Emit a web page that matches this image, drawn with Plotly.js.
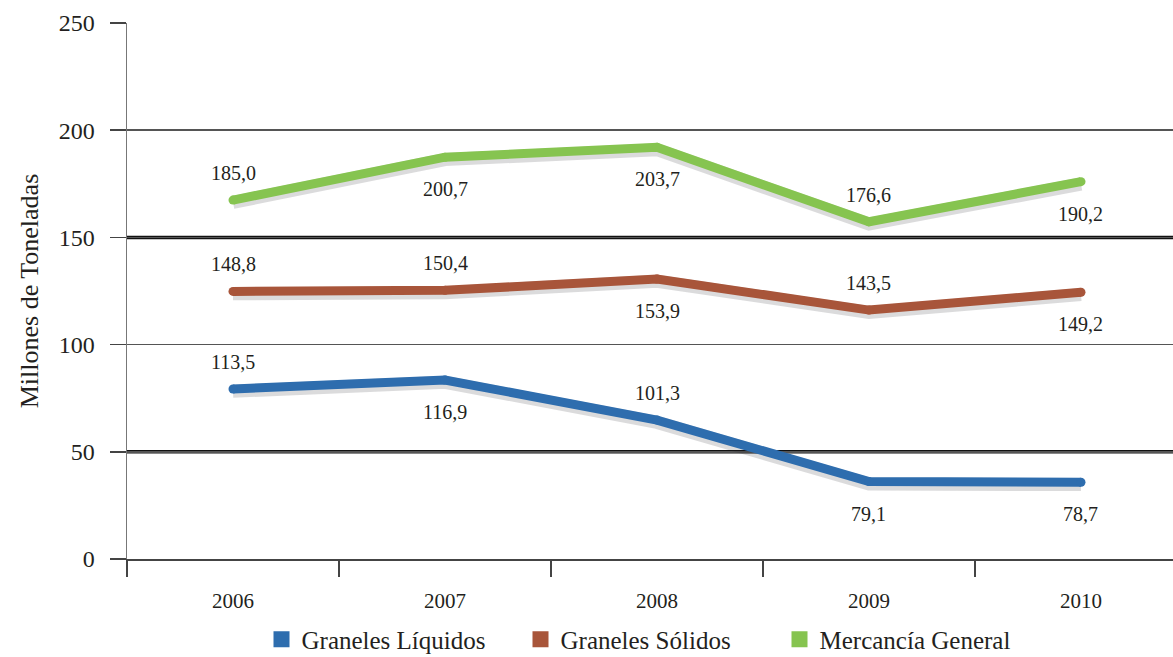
<!DOCTYPE html>
<html>
<head>
<meta charset="utf-8">
<script src="https://cdn.plot.ly/plotly-3.0.1.min.js"></script>
<style>
  html, body { margin: 0; padding: 0; background: #fff; }
  #chart { width: 1173px; height: 657px; }
</style>
</head>
<body>
<div id="chart"></div>
<script>
/* Tráfico portuario por tipo de mercancía, 2006-2010 */
var years = ['2006', '2007', '2008', '2009', '2010'];

/* posición de cada línea leída sobre el eje (millones de t) */
var liquidos  = [79.3, 83.5, 64.8, 36.1, 35.8];
var solidos   = [124.8, 125.3, 130.6, 116.1, 124.4];
var mercancia = [167.4, 187.4, 192.0, 157.3, 176.0];

/* etiquetas impresas junto a cada punto */
var liquidosLabels  = ['113,5', '116,9', '101,3', '79,1', '78,7'];
var solidosLabels   = ['148,8', '150,4', '153,9', '143,5', '149,2'];
var mercanciaLabels = ['185,0', '200,7', '203,7', '176,6', '190,2'];

/* 1 = encima de la línea, -1 = debajo */
var liquidosSide  = [1, -1, 1, -1, -1];
var solidosSide   = [1, 1, -1, 1, -1];
var mercanciaSide = [1, -1, -1, 1, -1];

var seriesNames = ['Graneles Líquidos', 'Graneles Sólidos', 'Mercancía General'];
var thickGrid = [50, 150];

(function () {
  'use strict';
  var FONT = 'Liberation Serif, Times New Roman, serif';
  var INK = '#231f20';
  var COLORS = ['#2e6dae', '#a8553a', '#86c450'];
  var series = [
    { y: liquidos, labels: liquidosLabels, side: liquidosSide },
    { y: solidos, labels: solidosLabels, side: solidosSide },
    { y: mercancia, labels: mercanciaLabels, side: mercanciaSide }
  ];

  var traces = [];
  var annotations = [];

  // sombras suaves debajo de las líneas
  series.forEach(function (s) {
    traces.push({
      x: years, y: s.y.map(function (v) { return v - 1.1; }),
      type: 'scatter', mode: 'lines',
      line: { color: 'rgba(30,30,40,0.16)', width: 13 },
      hoverinfo: 'skip', showlegend: false
    });
  });

  series.forEach(function (s, i) {
    traces.push({
      x: years, y: s.y, type: 'scatter', mode: 'lines+markers',
      line: { color: COLORS[i], width: 9 },
      marker: { color: COLORS[i], size: 9, line: { width: 0 } },
      hoverinfo: 'skip', showlegend: false
    });
    s.labels.forEach(function (txt, j) {
      annotations.push({
        x: j, y: s.y[j], xref: 'x', yref: 'y',   // índice de categoría
        text: txt, showarrow: false,
        yshift: s.side[j] > 0 ? 27 : -32,
        font: { family: FONT, size: 20, color: INK }
      });
    });
  });

  // entradas de leyenda con cuadrado
  seriesNames.forEach(function (name, i) {
    traces.push({
      x: [null], y: [null], type: 'scatter', mode: 'markers', name: name,
      marker: { color: COLORS[i], size: 19, symbol: 'square' },
      hoverinfo: 'skip'
    });
  });

  var shapes = thickGrid.map(function (v) {
    return {
      type: 'line', xref: 'paper', x0: 0, x1: 1, yref: 'y', y0: v, y1: v,
      line: { color: '#111', width: 3.5 }, layer: 'below'
    };
  });

  var layout = {
    width: 1173, height: 657,
    margin: { l: 127, r: 0, t: 23, b: 98, autoexpand: false },
    paper_bgcolor: '#fff', plot_bgcolor: '#fff',
    font: { family: FONT, color: INK },
    showlegend: true,
    legend: {
      orientation: 'h', x: 0.5, xanchor: 'center', y: -0.15, yanchor: 'middle',
      entrywidth: 214,
      font: { family: FONT, size: 25, color: INK }, itemsizing: 'trace'
    },
    xaxis: {
      type: 'category', range: [-0.5, 4.434], fixedrange: true,
      tickson: 'boundaries', ticks: 'outside', ticklen: 16, tickwidth: 1.5, tickcolor: '#444',
      showgrid: false, showline: true, linecolor: '#444', linewidth: 1.5,
      tickfont: { family: FONT, size: 21, color: INK }, ticklabelstandoff: 22
    },
    yaxis: {
      range: [0, 250], dtick: 50, tick0: 0, fixedrange: true,
      ticks: 'outside', ticklen: 16, tickwidth: 1.5, tickcolor: '#444',
      showgrid: true, gridcolor: '#555', gridwidth: 1.5, zeroline: false,
      showline: true, linecolor: '#777', linewidth: 1.5,
      tickfont: { family: FONT, size: 24, color: INK }, ticklabelstandoff: 10,
      title: { text: 'Millones de Toneladas', font: { family: FONT, size: 26, color: INK }, standoff: 12 }
    },
    shapes: shapes,
    annotations: annotations
  };

  Plotly.newPlot('chart', traces, layout, { displayModeBar: false, staticPlot: true });
})();
</script>
</body>
</html>
